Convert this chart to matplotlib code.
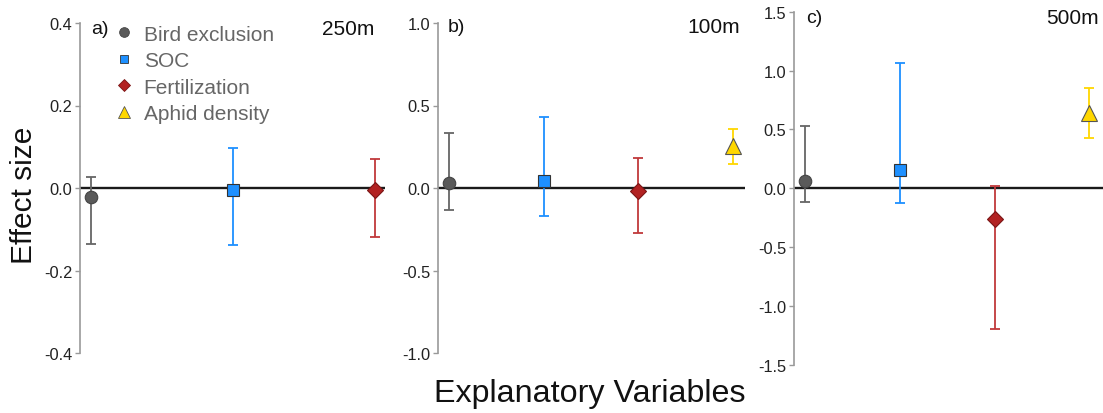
import matplotlib
matplotlib.use("Agg")
import matplotlib.pyplot as plt
from matplotlib.lines import Line2D

plt.rcParams["font.family"] = ["Liberation Sans", "DejaVu Sans"]

# ------------------------------------------------------------
# data (estimate, lower CI, upper CI)
categories = ["Bird exclusion", "SOC", "Fertilization", "Aphid density"]

est_250 = [-0.022, -0.006, -0.005]
lo_250 = [-0.136, -0.138, -0.118]
hi_250 = [0.027, 0.097, 0.070]

est_100 = [0.030, 0.044, -0.016, 0.256]
lo_100 = [-0.133, -0.170, -0.274, 0.148]
hi_100 = [0.335, 0.432, 0.180, 0.360]

est_500 = [0.059, 0.159, -0.260, 0.640]
lo_500 = [-0.116, -0.125, -1.195, 0.430]
hi_500 = [0.530, 1.064, 0.020, 0.850]

panel_tags = ["a)", "b)", "c)"]
panel_dist = ["250m", "100m", "500m"]
yticks_a = [-0.4, -0.2, 0.0, 0.2, 0.4]
yticks_b = [-1.0, -0.5, 0.0, 0.5, 1.0]
yticks_c = [-1.5, -1.0, -0.5, 0.0, 0.5, 1.0, 1.5]

# ------------------------------------------------------------
# styles
markers = ["o", "s", "D", "^"]
msizes = [9, 8, 8, 11]
face = ["#5a5a5a", "#1e90ff", "#b22222", "#ffd700"]
edge = ["#444444", "#333333", "#7a1515", "#555555"]
barcol = ["#666666", "#1e90ff", "#c0393b", "#ffd700"]
spine_col = "#999999"

W, H = 1103, 414
fig = plt.figure(figsize=(W / 100, H / 100), dpi=100)

# axes boxes in pixels: left, top, right, bottom
boxes = [(80, 24, 385, 354), (437.7, 24, 745, 354), (794, 12.7, 1103, 366)]
xlims = [(0.9225, 3.07), (0.88, 4.127), (0.88, 4.145)]
tag_pos = [(0.035, 0.982), (0.032, 0.988), (0.040, 0.983)]
dist_pos = [(0.965, 0.982), (0.985, 0.988), (0.985, 0.983)]

ests = [est_250, est_100, est_500]
los = [lo_250, lo_100, lo_500]
his = [hi_250, hi_100, hi_500]
yticks = [yticks_a, yticks_b, yticks_c]

axes = []
for i in range(3):
    l, t, r, b = boxes[i]
    ax = fig.add_axes([l / W, 1 - b / H, (r - l) / W, (b - t) / H])
    axes.append(ax)

    ax.axhline(0, color="#1a1a1a", lw=1.7, zorder=1)

    for j, (e, lo, hi) in enumerate(zip(ests[i], los[i], his[i])):
        x = j + 1
        ax.errorbar([x], [e], yerr=[[e - lo], [hi - e]], fmt="none",
                    ecolor=barcol[j], elinewidth=1.3, capsize=3.5,
                    capthick=1.3, zorder=2)
        ax.plot([x], [e], marker=markers[j], ms=msizes[j], color=face[j],
                mec=edge[j], mew=0.8, ls="none", zorder=3)

    yt = yticks[i]
    ax.set_ylim(yt[0], yt[-1])
    ax.set_yticks(yt)
    ax.set_yticklabels([f"{v:.1f}" for v in yt])
    ax.set_xlim(*xlims[i])
    ax.set_xticks([])

    for s in ["top", "right", "bottom"]:
        ax.spines[s].set_visible(False)
    ax.spines["left"].set_color(spine_col)
    ax.spines["left"].set_linewidth(1.2)
    ax.tick_params(axis="y", colors=spine_col, labelcolor="#222222",
                   labelsize=11.8, length=3.5, width=1.0, pad=2)
    ax.patch.set_alpha(0)

    ax.text(*tag_pos[i], panel_tags[i], transform=ax.transAxes,
            fontsize=14, ha="left", va="center", color="#111111")
    ax.text(*dist_pos[i], panel_dist[i], transform=ax.transAxes,
            fontsize=15, ha="right", va="center", color="#111111")

# legend in panel a
handles = [Line2D([], [], marker=markers[j], ls="none", ms=msizes[j] - 2,
                  color=face[j], mec=edge[j], mew=0.6)
           for j in range(4)]
leg = axes[0].legend(handles, categories, loc="upper left",
                     bbox_to_anchor=(0.082, 1.02), frameon=False,
                     fontsize=15, handlelength=1.0, handletextpad=0.45,
                     labelspacing=0.36, borderaxespad=0)
for txt in leg.get_texts():
    txt.set_color("#666666")

fig.text(24 / W, 1 - 195 / H, "Effect size", rotation=90,
         fontsize=21.5, ha="center", va="center", color="#111111")
fig.text(590 / W, 1 - 394 / H, "Explanatory Variables",
         fontsize=23.2, ha="center", va="center", color="#111111")

fig.savefig("out.png", dpi=100)
